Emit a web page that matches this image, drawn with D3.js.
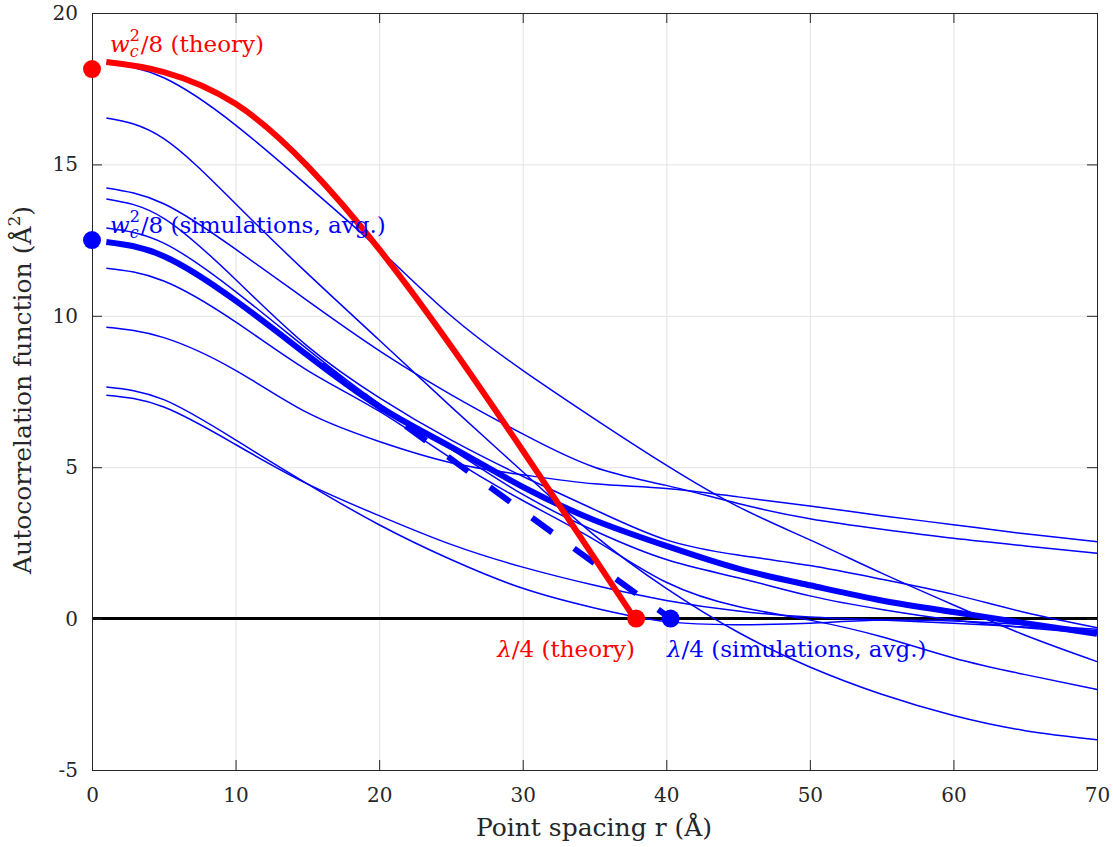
<!DOCTYPE html>
<html>
<head>
<meta charset="utf-8">
<script src="https://cdn.jsdelivr.net/npm/d3@7"></script>
<style>
  body { margin: 0; background: #fff; }
  svg { display: block; }
  text { font-family: "DejaVu Serif", "Liberation Serif", serif; }
</style>
</head>
<body>
<svg id="chart" width="1113" height="847"></svg>
<script>
// sample positions (Å) used for the simulated curves
var rr = [1, 5, 10, 15, 20, 25, 30, 35, 40, 45, 50, 55, 60, 65, 70];

// thin blue: individual simulations
var simA = [18.35, 17.86, 16.3, 14.3, 12.2, 10.0, 8.2, 6.6, 5.07, 3.7, 2.6, 1.5, 0.45, -0.55, -1.42];
var simB = [16.53, 15.85, 13.7, 11.4, 9.2, 7.0, 4.85, 2.75, 1.0, -0.45, -1.6, -2.5, -3.2, -3.7, -4.0];
var simC = [13.86, 13.22, 11.2, 9.0, 7.3, 5.9, 4.7, 3.6, 2.6, 2.1, 1.75, 1.3, 0.8, 0.2, -0.3];
var simD = [12.9, 12.4, 10.8, 8.9, 7.1, 5.6, 4.1, 2.9, 1.95, 1.35, 0.75, 0.3, -0.05, -0.3, -0.5];
var simE1 = [9.62, 9.28, 8.2, 6.8, 5.85, 5.15, 4.75, 4.45, 4.3, 4.02, 3.72, 3.4, 3.1, 2.8, 2.54];
var simE2 = [14.22, 13.7, 12.2, 10.5, 8.85, 7.4, 6.1, 5.0, 4.4, 3.8, 3.3, 2.95, 2.65, 2.4, 2.16];
var simF = [11.57, 11.15, 9.8, 8.2, 6.85, 5.3, 3.9, 2.6, 1.2, 0.4, -0.05, -0.6, -1.3, -1.85, -2.34];
var simL1 = [7.38, 6.99, 5.75, 4.45, 3.4, 2.45, 1.7, 1.1, 0.6, 0.25, 0.05, -0.05, -0.15, -0.28, -0.4];
var simL2 = [7.65, 7.23, 5.9, 4.45, 3.1, 1.95, 1.0, 0.35, -0.1, -0.2, -0.15, -0.05, -0.08, -0.2, -0.35];
var simulations = [simA, simB, simC, simD, simE1, simE2, simF, simL1, simL2];

// thick blue: average of simulations
var avgSim = [12.44, 11.97, 10.5, 8.7, 7.0, 5.67, 4.35, 3.25, 2.4, 1.65, 1.1, 0.6, 0.22, -0.15, -0.5];

// red: theory
var theoryR = [1, 5, 10, 15, 20, 25, 30, 35, 37.8];
var theoryV = [18.38, 18.05, 17.0, 14.95, 12.2, 9.0, 5.55, 2.0, 0];

// dashed linear fit towards λ/4 (simulations)
var fitR = [16, 40.3];
var fitV = [8.38, 0];

// markers
var wcTheory = 18.15, wcSim = 12.5;
var quarterTheory = 37.9, quarterSim = 40.3;

var xTicks = [0, 10, 20, 30, 40, 50, 60, 70];
var yTicks = [-5, 0, 5, 10, 15, 20];

var svg = d3.select("#chart");
var pL = 92, pR = 1097, pT = 13, pB = 770;
var x = d3.scaleLinear().domain([0, 70]).range([pL, pR]);
var y = d3.scaleLinear().domain([-5, 20]).range([pB, pT]);

// grid
svg.append("g")
    .attr("transform", "translate(0," + pB + ")")
    .call(d3.axisBottom(x).tickValues(xTicks).tickSize(-(pB - pT)).tickFormat(""))
    .call(g => g.select(".domain").remove())
    .selectAll("line").attr("stroke", "#e3e3e3");
svg.append("g")
    .attr("transform", "translate(" + pL + ",0)")
    .call(d3.axisLeft(y).tickValues(yTicks).tickSize(-(pR - pL)).tickFormat(""))
    .call(g => g.select(".domain").remove())
    .selectAll("line").attr("stroke", "#e3e3e3");

// zero line
svg.append("line")
    .attr("x1", x(0)).attr("x2", x(70))
    .attr("y1", y(0)).attr("y2", y(0))
    .attr("stroke", "#000").attr("stroke-width", 3);

var line = d3.line().curve(d3.curveNatural);

// thin simulation curves
svg.append("g").selectAll("path")
    .data(simulations)
    .enter().append("path")
    .attr("d", function (d) { return line(d.map((v, i) => [x(rr[i]), y(v)])); })
    .attr("fill", "none")
    .attr("stroke", "#0000ff")
    .attr("stroke-width", 1.5);

// dashed fit
svg.append("path")
    .attr("d", line(fitR.map((r, i) => [x(r), y(fitV[i])])))
    .attr("fill", "none")
    .attr("stroke", "#0000ff")
    .attr("stroke-width", 6)
    .attr("stroke-dasharray", "25 27");

// average curve
svg.append("path")
    .attr("d", line(avgSim.map((v, i) => [x(rr[i]), y(v)])))
    .attr("fill", "none")
    .attr("stroke", "#0000ff")
    .attr("stroke-width", 6);

// theory curve
svg.append("path")
    .attr("d", line(theoryR.map((r, i) => [x(r), y(theoryV[i])])))
    .attr("fill", "none")
    .attr("stroke", "#ff0000")
    .attr("stroke-width", 6);

// axes frame + inward ticks
function styleAxis(g) {
    g.selectAll(".domain").attr("stroke", "#262626");
    g.selectAll(".tick line").attr("stroke", "#262626");
    g.selectAll("text")
        .attr("fill", "#262626")
        .attr("font-size", 20)
        .attr("font-family", "DejaVu Serif, serif");
}
var plain = function (d) { return String(d); };
svg.append("g")
    .attr("transform", "translate(0," + pB + ")")
    .call(d3.axisBottom(x).tickValues(xTicks).tickFormat(plain).tickSize(-10).tickSizeOuter(0).tickPadding(18))
    .call(styleAxis);
svg.append("g")
    .attr("transform", "translate(0," + pT + ")")
    .call(d3.axisTop(x).tickValues(xTicks).tickSize(-10).tickSizeOuter(0).tickFormat(""))
    .call(styleAxis);
svg.append("g")
    .attr("transform", "translate(" + pL + ",0)")
    .call(d3.axisLeft(y).tickValues(yTicks).tickFormat(plain).tickSize(-10).tickSizeOuter(0).tickPadding(14))
    .call(styleAxis);
svg.append("g")
    .attr("transform", "translate(" + pR + ",0)")
    .call(d3.axisRight(y).tickValues(yTicks).tickSize(-10).tickSizeOuter(0).tickFormat(""))
    .call(styleAxis);

// markers
var dots = [
    { r: 0, v: wcTheory, c: "#ff0000" },
    { r: 0, v: wcSim, c: "#0000ff" },
    { r: quarterTheory, v: 0, c: "#ff0000" },
    { r: quarterSim, v: 0, c: "#0000ff" }
];
svg.append("g").selectAll("circle")
    .data(dots)
    .enter().append("circle")
    .attr("cx", d => x(d.r))
    .attr("cy", d => y(d.v))
    .attr("r", 9)
    .attr("fill", d => d.c);

// w_c^2/8 labels
function wcLabel(px, py, color, rest) {
    var t = svg.append("text")
        .attr("x", px).attr("y", py)
        .attr("fill", color)
        .attr("font-size", 23);
    t.append("tspan").attr("font-style", "italic").text("w");
    t.append("tspan").attr("font-style", "italic").attr("font-size", 16).attr("dy", 5).text("c");
    t.append("tspan").attr("font-size", 16).attr("dx", -9).attr("dy", -16).text("2");
    t.append("tspan").attr("dy", 11).attr("dx", 1).text("/8 " + rest);
}
wcLabel(110, 52, "#ff0000", "(theory)");
wcLabel(110, 233, "#0000ff", "(simulations, avg.)");

// λ/4 labels
function qLabel(px, py, color, anchor, rest) {
    var t = svg.append("text")
        .attr("x", px).attr("y", py)
        .attr("fill", color)
        .attr("font-size", 23)
        .attr("text-anchor", anchor);
    t.append("tspan").attr("font-style", "italic").text("λ");
    t.append("tspan").text("/4 " + rest);
}
qLabel(635, 657, "#ff0000", "end", "(theory)");
qLabel(667, 657, "#0000ff", "start", "(simulations, avg.)");

// axis titles
svg.append("text")
    .attr("x", 594).attr("y", 836)
    .attr("text-anchor", "middle")
    .attr("fill", "#262626")
    .attr("font-size", 25)
    .text("Point spacing r (Å)");

var yl = svg.append("text")
    .attr("transform", "translate(31,390) rotate(-90)")
    .attr("text-anchor", "middle")
    .attr("fill", "#262626")
    .attr("font-size", 25);
yl.append("tspan").text("Autocorrelation function (Å");
yl.append("tspan").attr("font-size", 17).attr("dy", -11).text("2");
yl.append("tspan").attr("dy", 11).text(")");
</script>
</body>
</html>
